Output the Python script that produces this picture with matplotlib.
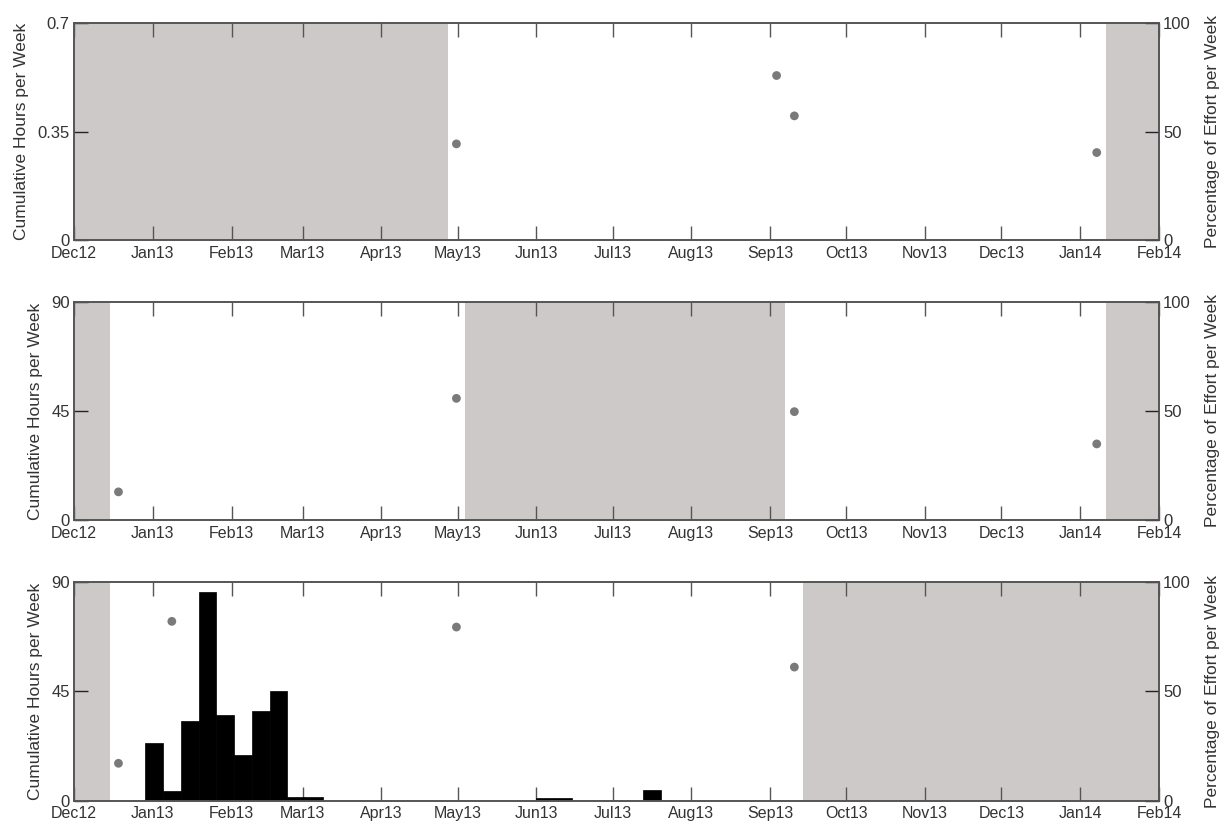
import matplotlib
matplotlib.use("Agg")
import matplotlib.pyplot as plt
import matplotlib.dates as mdates
import datetime as dt

plt.rcParams['font.family'] = ['Liberation Sans', 'DejaVu Sans']

# ---- data ----
bar_weeks = ["2012-12-29", "2013-01-05", "2013-01-12", "2013-01-19", "2013-01-26",
             "2013-02-02", "2013-02-09", "2013-02-16", "2013-02-23", "2013-03-02",
             "2013-06-01", "2013-06-08", "2013-07-13"]
bar_hours = [23.8, 4.1, 33.0, 86.0, 35.1, 19.0, 36.9, 45.1, 1.4, 1.4, 1.2, 1.2, 4.4]

dot_weeks = [
    ["2013-04-27", "2013-08-31", "2013-09-07", "2014-01-04"],
    ["2012-12-15", "2013-04-27", "2013-09-07", "2014-01-04"],
    ["2012-12-15", "2013-01-05", "2013-04-27", "2013-09-07"],
]
dot_pct = [
    [44.3, 75.8, 57.2, 40.3],
    [12.9, 55.8, 49.7, 34.9],
    [17.1, 82.0, 79.4, 61.1],
]
shade_periods = [
    [("2012-12-01", "2013-04-27"), ("2014-01-11", "2014-02-01")],
    [("2012-12-01", "2012-12-15"), ("2013-05-04", "2013-09-07"), ("2014-01-11", "2014-02-01")],
    [("2012-12-01", "2012-12-15"), ("2013-09-14", "2014-02-01")],
]
left_ylims = [0.7, 90, 90]
left_yticks = [[0, 0.35, 0.7], [0, 45, 90], [0, 45, 90]]
left_yticklabels = [["0", "0.35", "0.7"], ["0", "45", "90"], ["0", "45", "90"]]
right_yticks = [0, 50, 100]
month_ticks = ["2012-12-01", "2013-01-01", "2013-02-01", "2013-03-01", "2013-04-01",
               "2013-05-01", "2013-06-01", "2013-07-01", "2013-08-01", "2013-09-01",
               "2013-10-01", "2013-11-01", "2013-12-01", "2014-01-01", "2014-02-01"]

def d(s):
    return dt.datetime.strptime(s, "%Y-%m-%d")

def wc(s):
    return d(s) + dt.timedelta(days=3.5)

SHADE = '#cdc9c9'
DOT = '#7a7a7a'
SPINE = '#555555'
TXT = '#333333'

fig = plt.figure(figsize=(12.23, 8.25), dpi=100)
W, H = 1223, 825
boxes = [(74, 23, 1159, 240), (74, 302, 1159, 520), (74, 582, 1159, 800.7)]

xmin, xmax = d("2012-12-01"), d("2014-02-01")
for i, (x0, y0, x1, y1) in enumerate(boxes):
    ax = fig.add_axes([x0 / W, 1 - y1 / H, (x1 - x0) / W, (y1 - y0) / H])
    for a, b in shade_periods[i]:
        ax.axvspan(d(a), d(b), color=SHADE, lw=0, zorder=0)
    if i == 2:
        ax.bar([d(s) for s in bar_weeks], bar_hours, width=7, align='edge',
               color='black', edgecolor='black', lw=0.5, zorder=2)
    ax.set_xlim(xmin, xmax)
    ax.set_ylim(0, left_ylims[i])
    ax.set_yticks(left_yticks[i])
    ax.set_yticklabels(left_yticklabels[i])
    ax.set_xticks([d(s) for s in month_ticks])
    ax.xaxis.set_major_formatter(mdates.DateFormatter('%b%y'))
    ax.tick_params(axis='x', direction='in', length=10, width=1, color=SPINE,
                   top=True, labelsize=11.5, labelcolor=TXT, pad=4)
    ax.tick_params(axis='y', direction='in', length=10, width=1, color='#222222',
                   labelsize=12, labelcolor=TXT, pad=3)
    ax.set_ylabel("Cumulative Hours per Week", fontsize=12.5, color=TXT, labelpad=6)
    for sp in ax.spines.values():
        sp.set_color(SPINE)
        sp.set_linewidth(1.2)

    ax2 = ax.twinx()
    ax2.set_ylim(0, 100)
    ax2.set_yticks(right_yticks)
    ax2.tick_params(axis='y', direction='in', length=10, width=1, color='#222222',
                    labelsize=12, labelcolor=TXT, pad=3)
    ax2.scatter([wc(s) for s in dot_weeks[i]], dot_pct[i], s=40, color=DOT,
                edgecolors='none', zorder=3)
    ax2.set_ylabel("Percentage of Effort per Week", fontsize=12.5, color=TXT, labelpad=10)
    ax2.set_xlim(xmin, xmax)
    for sp in ax2.spines.values():
        sp.set_color(SPINE)
        sp.set_linewidth(1.2)

fig.savefig("out.png", dpi=100, facecolor='white')
